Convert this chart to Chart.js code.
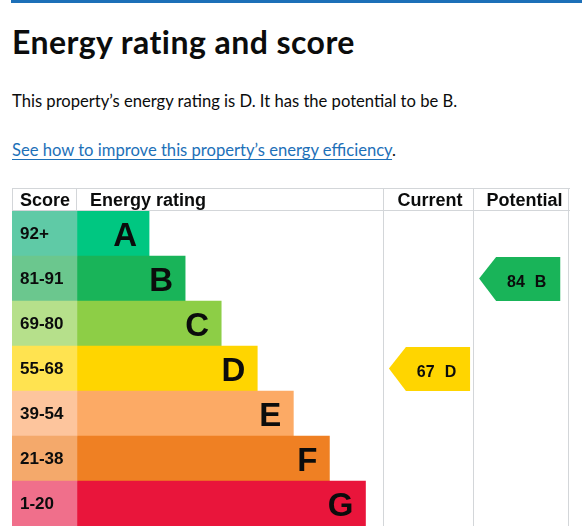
<!DOCTYPE html>
<html>
<head>
<meta charset="utf-8">
<script src="https://cdn.jsdelivr.net/npm/chart.js@4.4.0/dist/chart.umd.min.js"></script>
<style>
  body { margin: 0; width: 587px; height: 526px; overflow: hidden; position: relative; background: #fff; color: #0b0c0c; font-family: Lato, "Noto Sans", sans-serif; }
  .topline { position: absolute; left: 11px; top: 0; width: 571px; height: 3px; background: #1d70b8; }
  h1 { position: absolute; left: 12px; top: 26px; margin: 0; font-size: 32px; line-height: 32px; letter-spacing: 0.45px; font-weight: 700; white-space: nowrap; }
  p { position: absolute; left: 12px; margin: 0; font-size: 16.6px; line-height: 16.6px; white-space: nowrap; }
  .intro { top: 93px; }
  .more { top: 142px; }
  .more a { color: #1d70b8; text-decoration: underline; text-decoration-thickness: 1px; text-underline-offset: 3px; }
  #wrap { position: absolute; left: 12px; top: 188px; width: 558px; height: 338px; }
</style>
</head>
<body>
<div class="topline"></div>
<h1>Energy rating and score</h1>
<p class="intro">This property’s energy rating is D. It has the potential to be B.</p>
<p class="more"><a href="#">See how to improve this property’s energy efficiency</a>.</p>
<div id="wrap"><canvas id="epc" width="558" height="338"></canvas></div>
<script>
// Data
const ratings = ["A", "B", "C", "D", "E", "F", "G"];
const scoreBands = ["92+", "81-91", "69-80", "55-68", "39-54", "21-38", "1-20"];
const bandMin = [92, 81, 69, 55, 39, 21, 1];
const barLength = [2, 3, 4, 5, 6, 7, 8];
const currentScore = 67;
const potentialScore = 84;
const headers = ["Score", "Energy rating", "Current", "Potential"];

const ratingColours = ["#00c781", "#19b459", "#8dce46", "#ffd500", "#fcaa65", "#ef8023", "#e9153b"];
const scoreColours = ["#5fcaa6", "#6bc78e", "#b6e08b", "#ffe350", "#fdc59d", "#f4a96b", "#f06f8b"];

// column edges in x scale units: score | energy rating | current | potential
const columnEdges = [-1.8, 0, 8.5, 11, 13.67];
const arrowWidth = 2.25;
const lineColour = "#d3d6d9";
const fontFamily = '"Liberation Sans", Arial, sans-serif';

function bandOf(score) {
    return bandMin.findIndex(m => score >= m);
}

// one floating bar sat in the given column, on the band of the score
function arrowData(score, col) {
    const band = bandOf(score);
    const start = columnEdges[col] + 0.15;
    return ratings.map((r, i) => i === band ? [start, start + arrowWidth] : null);
}

const epcPlugin = {
    id: "epc",
    afterDatasetsDraw(chart) {
        const ctx = chart.ctx;
        const x = chart.scales.x;
        const area = chart.chartArea;
        const W = chart.width;
        ctx.save();

        // arrows for current / potential
        [2, 3].forEach(di => {
            const meta = chart.getDatasetMeta(di);
            const score = chart.data.datasets[di].score;
            meta.data.forEach((el, i) => {
                if (chart.data.datasets[di].data[i] == null) return;
                const p = el.getProps(["x", "base", "y", "height"], true);
                const left = Math.min(p.x, p.base), right = Math.max(p.x, p.base);
                const top = p.y - p.height / 2 + 1, bottom = p.y + p.height / 2;
                const tip = 17;
                ctx.fillStyle = ratingColours[i];
                ctx.beginPath();
                ctx.moveTo(left, p.y);
                ctx.lineTo(left + tip, top);
                ctx.lineTo(right, top);
                ctx.lineTo(right, bottom);
                ctx.lineTo(left + tip, bottom);
                ctx.closePath();
                ctx.fill();

                ctx.fillStyle = "#0b0c0c";
                ctx.font = "bold 16px " + fontFamily;
                ctx.textBaseline = "alphabetic";
                const num = String(score), letter = ratings[i];
                const wn = ctx.measureText(num).width, wl = ctx.measureText(letter).width;
                const gap = 10;
                const cx = (left + right) / 2 + 7;
                const start = cx - (wn + gap + wl) / 2;
                ctx.textAlign = "left";
                ctx.fillText(num, start, p.y + 8.5);
                ctx.fillText(letter, start + wn + gap, p.y + 8.5);
            });
        });

        // score bands and rating letters
        const bars = chart.getDatasetMeta(1);
        bars.data.forEach((el, i) => {
            const p = el.getProps(["x", "y"], true);
            ctx.fillStyle = "#0b0c0c";
            ctx.textBaseline = "alphabetic";
            ctx.font = "bold 17px " + fontFamily;
            ctx.textAlign = "left";
            ctx.fillText(scoreBands[i], x.getPixelForValue(columnEdges[0]) + 8, p.y + 5);
            ctx.font = "bold 33px " + fontFamily;
            ctx.textAlign = "right";
            ctx.fillText(ratings[i], p.x - 12, p.y + 12);
        });

        // header row
        ctx.font = "bold 18px " + fontFamily;
        ctx.fillStyle = "#0b0c0c";
        ctx.textBaseline = "alphabetic";
        const hx = columnEdges.map(v => Math.min(Math.round(x.getPixelForValue(v)), W - 1));
        ctx.textAlign = "left";
        ctx.fillText(headers[0], hx[0] + 8, 18);
        ctx.fillText(headers[1], hx[1] + 13, 18);
        ctx.textAlign = "center";
        ctx.fillText(headers[2], (hx[2] + hx[3]) / 2 + 1, 18);
        ctx.fillText(headers[3], (hx[3] + hx[4]) / 2 + 3, 18);

        // table lines
        ctx.strokeStyle = lineColour;
        ctx.lineWidth = 1;
        ctx.beginPath();
        ctx.moveTo(0, 0.5); ctx.lineTo(W, 0.5);
        ctx.moveTo(0, area.top - 0.5); ctx.lineTo(W, area.top - 0.5);
        ctx.moveTo(hx[0] + 0.5, 0); ctx.lineTo(hx[0] + 0.5, area.top);
        ctx.moveTo(hx[1] - 0.5, 0); ctx.lineTo(hx[1] - 0.5, area.top);
        [2, 3, 4].forEach(c => {
            ctx.moveTo(hx[c] - 0.5, 0); ctx.lineTo(hx[c] - 0.5, area.bottom);
        });
        ctx.stroke();
        ctx.restore();
    }
};

new Chart(document.getElementById("epc"), {
    type: "bar",
    data: {
        labels: ratings,
        datasets: [{
                label: "Score",
                data: ratings.map(() => [columnEdges[0], columnEdges[1]]),
                backgroundColor: scoreColours,
            },
            {
                label: "Energy rating",
                data: barLength.map(v => [columnEdges[1], v]),
                backgroundColor: ratingColours,
            },
            {
                label: "Current",
                score: currentScore,
                data: arrowData(currentScore, 2),
                backgroundColor: "rgba(0,0,0,0)",
            },
            {
                label: "Potential",
                score: potentialScore,
                data: arrowData(potentialScore, 3),
                backgroundColor: "rgba(0,0,0,0)",
            }
        ]
    },
    options: {
        indexAxis: "y",
        responsive: false,
        animation: false,
        devicePixelRatio: window.devicePixelRatio || 1,
        layout: { padding: { top: 23, left: 0, right: 0, bottom: 0 } },
        datasets: {
            bar: { grouped: false, categoryPercentage: 1, barPercentage: 1, borderWidth: 0, borderSkipped: false }
        },
        scales: {
            x: { type: "linear", min: columnEdges[0], max: columnEdges[4], display: false },
            y: { type: "category", display: false }
        },
        plugins: {
            legend: { display: false },
            tooltip: { enabled: false }
        }
    },
    plugins: [epcPlugin]
});
</script>
</body>
</html>
